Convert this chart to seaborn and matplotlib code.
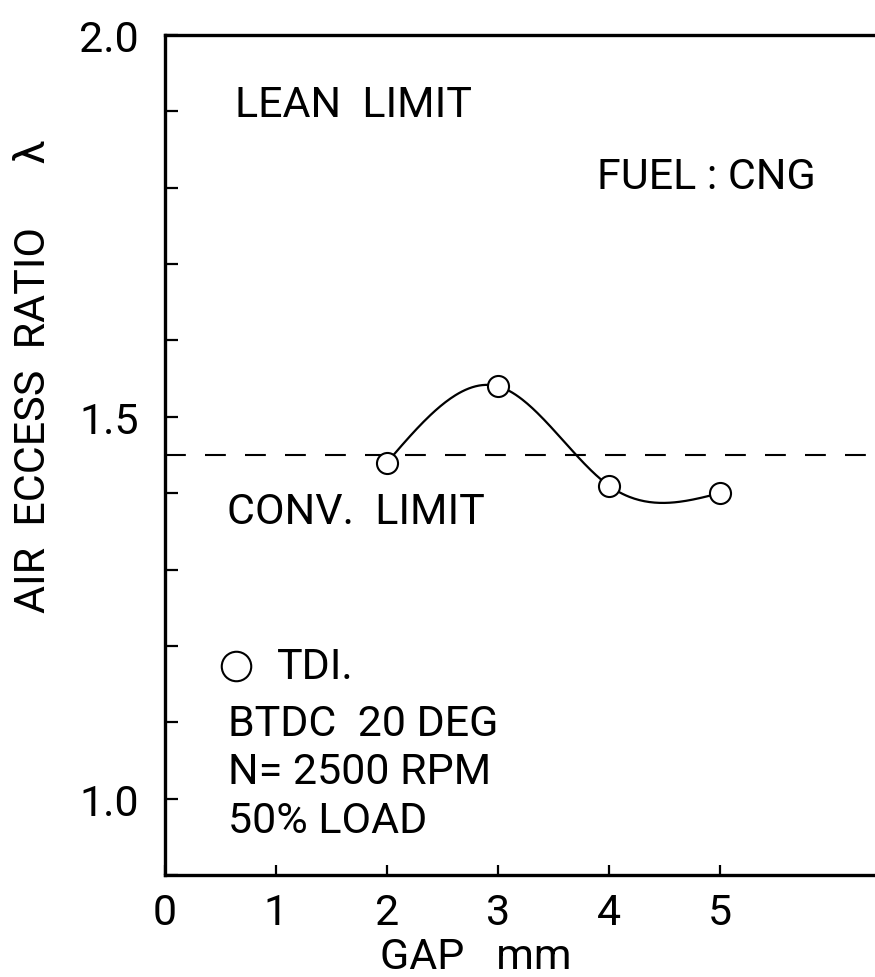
import numpy as np
import pandas as pd
import matplotlib
matplotlib.use("Agg")
import matplotlib.pyplot as plt
from matplotlib.ticker import MultipleLocator, FixedLocator
import seaborn as sns

# Measured lean limit (air excess ratio) versus spark gap
gap_mm = [2, 3, 4, 5]
lean_limit = [1.44, 1.54, 1.41, 1.40]
conv_limit = 1.45

x_ticks = [0, 1, 2, 3, 4, 5]
y_ticks = [1.0, 1.5, 2.0]

series_name = "TDI."
conditions = ["BTDC  20 DEG", "N= 2500 RPM", "50% LOAD"]


def natural_spline(xk, yk, n=200):
    """Natural cubic spline through the knots, sampled on n points."""
    xk = np.asarray(xk, float)
    yk = np.asarray(yk, float)
    m = len(xk)
    h = np.diff(xk)
    A = np.zeros((m, m))
    r = np.zeros(m)
    A[0, 0] = A[-1, -1] = 1.0
    for i in range(1, m - 1):
        A[i, i - 1] = h[i - 1]
        A[i, i] = 2 * (h[i - 1] + h[i])
        A[i, i + 1] = h[i]
        r[i] = 6 * ((yk[i + 1] - yk[i]) / h[i] - (yk[i] - yk[i - 1]) / h[i - 1])
    M = np.linalg.solve(A, r)
    xs = np.linspace(xk[0], xk[-1], n)
    idx = np.clip(np.searchsorted(xk, xs) - 1, 0, m - 2)
    x0, x1 = xk[idx], xk[idx + 1]
    hh = x1 - x0
    a = (x1 - xs) / hh
    b = (xs - x0) / hh
    ys = (a * yk[idx] + b * yk[idx + 1]
          + ((a ** 3 - a) * M[idx] + (b ** 3 - b) * M[idx + 1]) * hh ** 2 / 6)
    return xs, ys


sns.set_style("ticks")
plt.rcParams["font.family"] = ["Roboto", "Liberation Sans", "DejaVu Sans"]
plt.rcParams["font.weight"] = "normal"
plt.rcParams["axes.labelweight"] = "normal"
plt.rcParams["text.color"] = "black"
plt.rcParams["axes.labelcolor"] = "black"

FS = 31

fig = plt.figure(figsize=(8.75, 9.78), dpi=100)
ax = fig.add_axes([0.1886, 0.1043, 0.8114, 0.8589])

df = pd.DataFrame({"gap": gap_mm, "lam": lean_limit})
xs, ys = natural_spline(gap_mm, lean_limit)
curve = pd.DataFrame({"gap": xs, "lam": ys})

ax.axhline(conv_limit, color="black", lw=1.5, dashes=(10, 9.2), zorder=1)
sns.lineplot(data=curve, x="gap", y="lam", ax=ax, color="black", lw=1.6,
             sort=True, zorder=2)
sns.scatterplot(data=df, x="gap", y="lam", ax=ax, marker="o", s=230,
                facecolor="white", edgecolor="black", linewidth=1.5, zorder=3,
                label=series_name)

ax.set_xlim(0, 6.4)
ax.set_ylim(0.9, 2.0)

ax.xaxis.set_major_locator(FixedLocator(x_ticks))
ax.set_xticklabels([str(t) for t in x_ticks])
ax.yaxis.set_major_locator(FixedLocator(y_ticks))
ax.set_yticklabels([f"{t:.1f}" for t in y_ticks])
ax.yaxis.set_minor_locator(MultipleLocator(0.1))

ax.tick_params(axis="both", which="both", direction="in", width=1.6,
               labelsize=FS, colors="black")
ax.tick_params(axis="y", which="both", length=9, pad=19)
ax.tick_params(axis="x", which="major", length=7, pad=12)

for side in ("left", "bottom", "top"):
    ax.spines[side].set_linewidth(2.4)
    ax.spines[side].set_color("black")
ax.spines["right"].set_visible(False)

ax.set_xlabel("GAP   mm", fontsize=FS)
ax.xaxis.label.set_verticalalignment("baseline")
ax.xaxis.set_label_coords(0.438, -0.111)
ax.set_ylabel("AIR  ECCESS  RATIO      \u03bb", fontsize=FS)
ax.yaxis.set_label_coords(-0.156, 0.595)

txt = dict(fontsize=FS, va="baseline", ha="left")
ax.text(0.63, 1.894, "LEAN  LIMIT", **txt)
ax.text(3.895, 1.799, "FUEL : CNG", **txt)
ax.text(0.56, 1.361, "CONV.  LIMIT", **txt)

# legend key for the measured series
handles, labels = ax.get_legend_handles_labels()
keep = [i for i, l in enumerate(labels) if l == series_name]
ax.legend([handles[i] for i in keep], [labels[i] for i in keep],
          loc="center left", bbox_to_anchor=(0.0789, 0.2488), frameon=False,
          fontsize=FS, markerscale=1.4, handlelength=0.7, handletextpad=0.6,
          borderpad=0, borderaxespad=0)

# run conditions
for row, label in enumerate(conditions):
    ax.text(0.57, 1.0837 - row * 0.0634, label, **txt)

fig.savefig("out.png", dpi=100)
